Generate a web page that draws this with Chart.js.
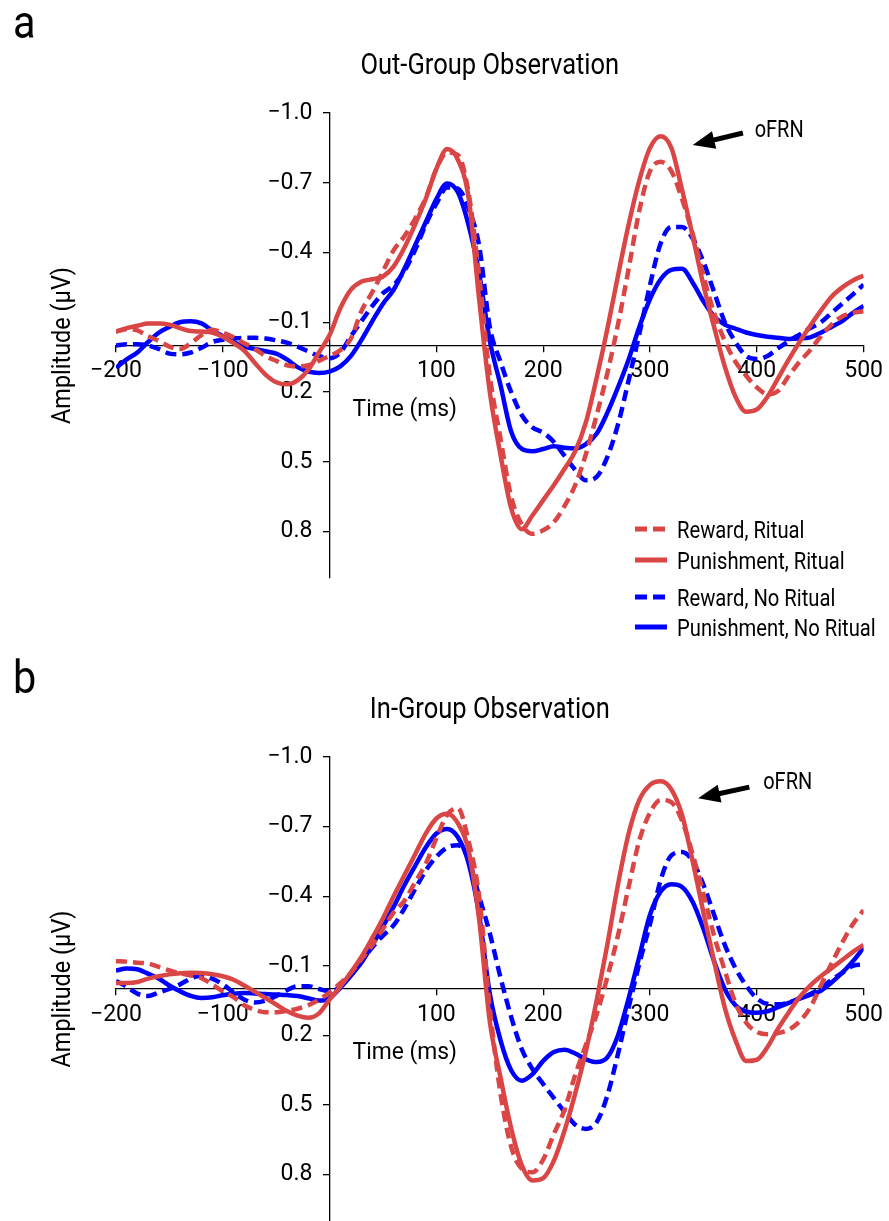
<!DOCTYPE html>
<html>
<head>
<meta charset="utf-8">
<script src="https://cdn.jsdelivr.net/npm/chart.js@4.4.0/dist/chart.umd.min.js"></script>
<style>
  html, body { margin: 0; padding: 0; background: #fff; overflow: hidden; }
  .panel { position: absolute; left: 0; width: 889px; }
  #pa { top: 0; height: 640px; }
  #pb { top: 640px; height: 600px; }
</style>
</head>
<body>
<div class="panel" id="pa"><canvas id="chartA" width="889" height="640"></canvas></div>
<div class="panel" id="pb"><canvas id="chartB" width="889" height="600"></canvas></div>
<script>
const FONT = 'Roboto, "Liberation Sans", sans-serif';

// time points (ms)
const times = [-200,-190,-180,-170,-160,-150,-140,-130,-120,-110,-100,-90,-80,-70,-60,-50,-40,-30,-20,-10,
  0,10,20,30,40,50,60,70,80,90,100,110,120,130,140,150,160,170,180,190,
  200,210,220,230,240,250,260,270,280,290,300,310,320,330,340,350,360,370,380,390,
  400,410,420,430,440,450,460,470,480,490,500];

const seriesLabels = ['Reward, Ritual', 'Punishment, Ritual', 'Reward, No Ritual', 'Punishment, No Ritual'];
const seriesColors = ['#da4545', '#da4545', '#0000ff', '#0000ff'];
const seriesDashed = [true, false, true, false];

const xTicks = [-200, -100, 100, 200, 300, 400, 500];
const yTicks = [-1.0, -0.7, -0.4, -0.1, 0.2, 0.5, 0.8];

// a: out-group observation (amplitude, µV)
const outRewardRitual = [-0.06,-0.07,-0.065,-0.04,-0.02,0.005,0.015,-0.01,-0.045,-0.068,-0.055,-0.035,-0.01,0.015,0.045,0.066,0.085,0.09,0.085,0.066,
  0.045,0.02,-0.03,-0.15,-0.23,-0.32,-0.41,-0.47,-0.545,-0.635,-0.76,-0.83,-0.82,-0.66,-0.3,0.13,0.4,0.65,0.77,0.81,
  0.795,0.76,0.69,0.6,0.467,0.3,0.12,-0.09,-0.33,-0.58,-0.75,-0.79,-0.75,-0.63,-0.48,-0.3,-0.14,-0.02,0.07,0.13,
  0.18,0.21,0.195,0.13,0.07,0.02,-0.04,-0.09,-0.125,-0.14,-0.147];
const outPunishRitual = [-0.06,-0.075,-0.085,-0.095,-0.095,-0.09,-0.075,-0.062,-0.06,-0.056,-0.038,-0.01,0.022,0.075,0.125,0.158,0.167,0.15,0.105,0.03,
  -0.045,-0.16,-0.24,-0.275,-0.285,-0.297,-0.34,-0.42,-0.52,-0.63,-0.76,-0.845,-0.8,-0.64,-0.2,0.2,0.47,0.7,0.79,0.73,
  0.665,0.6,0.53,0.455,0.33,0.14,-0.07,-0.3,-0.52,-0.71,-0.85,-0.9,-0.85,-0.67,-0.47,-0.26,-0.08,0.09,0.22,0.285,
  0.275,0.22,0.14,0.06,-0.015,-0.085,-0.15,-0.21,-0.25,-0.28,-0.3];
const outRewardNoRitual = [0.0,-0.005,-0.005,0.0,0.015,0.035,0.038,0.03,0.01,-0.015,-0.025,-0.03,-0.033,-0.033,-0.03,-0.022,-0.012,0.005,0.025,0.045,
  0.055,0.03,-0.04,-0.106,-0.17,-0.225,-0.26,-0.32,-0.41,-0.52,-0.61,-0.68,-0.675,-0.59,-0.43,-0.08,0.07,0.2,0.3,0.353,
  0.375,0.415,0.475,0.535,0.58,0.565,0.48,0.34,0.15,-0.05,-0.26,-0.44,-0.51,-0.51,-0.46,-0.36,-0.23,-0.1,-0.015,0.045,
  0.058,0.045,0.012,-0.02,-0.047,-0.075,-0.1,-0.14,-0.18,-0.22,-0.262];
const outPunishNoRitual = [0.096,0.06,0.03,-0.015,-0.055,-0.08,-0.1,-0.104,-0.095,-0.065,-0.04,-0.015,0.005,0.015,0.025,0.035,0.06,0.093,0.112,0.118,
  0.112,0.09,0.045,-0.025,-0.105,-0.18,-0.24,-0.33,-0.43,-0.53,-0.63,-0.697,-0.66,-0.52,-0.31,-0.02,0.17,0.37,0.445,0.455,
  0.445,0.433,0.44,0.443,0.424,0.38,0.29,0.18,0.06,-0.08,-0.2,-0.285,-0.325,-0.33,-0.27,-0.19,-0.125,-0.09,-0.072,-0.056,
  -0.045,-0.038,-0.033,-0.028,-0.03,-0.035,-0.055,-0.08,-0.105,-0.14,-0.17];

// b: in-group observation (amplitude, µV)
const inRewardRitual = [-0.12,-0.118,-0.113,-0.11,-0.095,-0.08,-0.068,-0.058,-0.047,-0.02,0.01,0.035,0.07,0.09,0.1,0.1,0.094,0.085,0.07,0.046,
  0.015,-0.025,-0.07,-0.13,-0.19,-0.26,-0.33,-0.38,-0.46,-0.54,-0.65,-0.75,-0.78,-0.64,-0.4,0.08,0.45,0.68,0.775,0.79,
  0.735,0.625,0.52,0.37,0.24,0.11,-0.05,-0.23,-0.44,-0.64,-0.76,-0.815,-0.805,-0.725,-0.58,-0.41,-0.23,-0.08,0.06,0.145,
  0.185,0.195,0.19,0.175,0.14,0.08,-0.015,-0.11,-0.2,-0.28,-0.34];
const inPunishRitual = [-0.026,-0.026,-0.03,-0.045,-0.055,-0.063,-0.068,-0.07,-0.069,-0.064,-0.055,-0.04,-0.015,0.012,0.039,0.067,0.095,0.115,0.124,0.105,
  0.045,-0.01,-0.072,-0.14,-0.22,-0.305,-0.4,-0.49,-0.58,-0.67,-0.735,-0.755,-0.715,-0.6,-0.3,0.14,0.38,0.6,0.76,0.825,
  0.815,0.74,0.61,0.45,0.267,0.05,-0.19,-0.45,-0.67,-0.815,-0.88,-0.895,-0.86,-0.75,-0.55,-0.33,-0.12,0.08,0.22,0.31,
  0.305,0.25,0.17,0.1,0.035,-0.015,-0.055,-0.09,-0.125,-0.16,-0.19];
const inRewardNoRitual = [-0.035,-0.01,0.02,0.03,0.015,0.0,-0.02,-0.045,-0.058,-0.045,-0.02,0.015,0.045,0.058,0.05,0.03,0.005,-0.012,-0.012,0.0,
  0.01,-0.01,-0.06,-0.12,-0.18,-0.23,-0.275,-0.347,-0.43,-0.51,-0.57,-0.61,-0.62,-0.56,-0.4,-0.24,-0.05,0.12,0.26,0.345,
  0.41,0.47,0.53,0.585,0.603,0.575,0.46,0.28,0.08,-0.11,-0.28,-0.47,-0.576,-0.59,-0.55,-0.45,-0.32,-0.19,-0.09,-0.015,
  0.04,0.064,0.066,0.058,0.04,0.022,-0.005,-0.04,-0.07,-0.1,-0.105];
const inPunishNoRitual = [-0.08,-0.088,-0.085,-0.066,-0.045,-0.015,0.01,0.03,0.039,0.036,0.027,0.02,0.017,0.019,0.022,0.024,0.026,0.03,0.04,0.05,
  0.04,-0.005,-0.058,-0.115,-0.19,-0.27,-0.355,-0.447,-0.53,-0.61,-0.67,-0.69,-0.655,-0.545,-0.32,0.02,0.22,0.35,0.395,0.367,
  0.31,0.272,0.262,0.278,0.303,0.315,0.295,0.2,0.04,-0.14,-0.32,-0.42,-0.452,-0.44,-0.375,-0.26,-0.12,0.0,0.07,0.098,
  0.102,0.096,0.078,0.06,0.042,0.025,0.008,-0.028,-0.07,-0.12,-0.178];

function minusFmt(v, digits) {
  const s = Math.abs(v).toFixed(digits);
  return v < 0 ? '\u2212' + s : s;
}

// text squeezed sideways, the original uses a condensed face
function narrowText(ctx, str, x, y, size, align, sx) {
  ctx.save();
  ctx.font = size + 'px ' + FONT;
  ctx.textAlign = align;
  ctx.translate(x, y);
  ctx.scale(sx, 1);
  ctx.fillText(str, 0, 0);
  ctx.restore();
}

// panel text, oFRN arrow and legend
const panelText = {
  id: 'panelText',
  afterDraw(chart, args, o) {
    const {ctx, chartArea} = chart;
    const xs = chart.scales.x, ys = chart.scales.y;
    const x0 = xs.getPixelForValue(0), y0 = ys.getPixelForValue(0);
    ctx.save();
    ctx.fillStyle = '#000';
    ctx.textBaseline = 'alphabetic';

    narrowText(ctx, o.letter, 13, o.letterY, 46, 'left', 0.9);
    narrowText(ctx, o.title, (chartArea.left + chartArea.right) / 2, chartArea.top - 39, 29, 'center', 0.88);
    narrowText(ctx, 'Time (ms)', x0 + 23, y0 + 70, 24, 'left', 0.95);

    ctx.save();
    ctx.translate(70, y0);
    ctx.rotate(-Math.PI / 2);
    narrowText(ctx, 'Amplitude (\u03BCV)', 0, 0, 25.5, 'center', 0.92);
    ctx.restore();

    // arrow
    const tx = xs.getPixelForValue(o.arrow.tip[0]), ty = ys.getPixelForValue(o.arrow.tip[1]);
    const sx = xs.getPixelForValue(o.arrow.tail[0]), sy = ys.getPixelForValue(o.arrow.tail[1]);
    const ang = Math.atan2(ty - sy, tx - sx);
    const hl = 22, hw = 9;
    const bx = tx - hl * Math.cos(ang), by = ty - hl * Math.sin(ang);
    ctx.strokeStyle = '#000';
    ctx.lineWidth = 5;
    ctx.beginPath();
    ctx.moveTo(sx, sy);
    ctx.lineTo(bx + 2 * Math.cos(ang), by + 2 * Math.sin(ang));
    ctx.stroke();
    ctx.beginPath();
    ctx.moveTo(tx, ty);
    ctx.lineTo(bx + hw * Math.sin(ang), by - hw * Math.cos(ang));
    ctx.lineTo(bx - hw * Math.sin(ang), by + hw * Math.cos(ang));
    ctx.closePath();
    ctx.fill();

    narrowText(ctx, 'oFRN', xs.getPixelForValue(o.arrow.text[0]), ys.getPixelForValue(o.arrow.text[1]), 23.5, 'left', 0.85);

    // legend
    if (o.legendRows) {
      chart.data.datasets.forEach((ds, i) => {
        const ry = o.legendRows[i];
        ctx.save();
        ctx.strokeStyle = ds.borderColor;
        ctx.lineWidth = 5;
        ctx.setLineDash(ds.borderDash.length ? [12, 6] : []);
        ctx.beginPath();
        ctx.moveTo(635, ry);
        ctx.lineTo(667, ry);
        ctx.stroke();
        ctx.restore();
        narrowText(ctx, ds.label, 677, ry + 8.5, 23.5, 'left', 0.86);
      });
    }
    ctx.restore();
  }
};

Chart.defaults.font.family = FONT;
Chart.defaults.color = '#000';

function buildPanel(id, series, pad, textOpts) {
  return new Chart(document.getElementById(id), {
    type: 'line',
    data: {
      datasets: series.map((vals, i) => ({
        label: seriesLabels[i],
        data: times.map((t, k) => ({x: t, y: vals[k]})),
        borderColor: seriesColors[i],
        borderDash: seriesDashed[i] ? [11, 6] : [],
        borderWidth: 4.5,
        pointRadius: 0,
        fill: false,
        cubicInterpolationMode: 'monotone',
        order: [1, 0, 3, 2][i]
      }))
    },
    options: {
      responsive: false,
      animation: false,
      layout: {padding: pad},
      plugins: {
        legend: {display: false},
        tooltip: {enabled: false},
        panelText: textOpts
      },
      scales: {
        x: {
          type: 'linear', min: -200, max: 500,
          position: {y: 0},
          afterBuildTicks: a => { a.ticks = xTicks.map(v => ({value: v})); },
          ticks: {font: {size: 23}, color: '#000', padding: 6, maxRotation: 0, autoSkip: false,
            callback: v => minusFmt(v, 0)},
          grid: {drawOnChartArea: false, drawTicks: true, tickLength: 6, color: '#000', lineWidth: 1.3},
          border: {color: '#000', width: 1.3}
        },
        y: {
          type: 'linear', min: -1, max: 1, reverse: true,
          position: {x: 0},
          afterBuildTicks: a => { a.ticks = yTicks.map(v => ({value: v})); },
          ticks: {font: {size: 23}, color: '#000', autoSkip: false,
            callback: v => minusFmt(v, 1) + '   '},
          grid: {drawOnChartArea: false, drawTicks: true, tickLength: 6, color: '#000', lineWidth: 1.3},
          border: {color: '#000', width: 1.3}
        }
      }
    },
    plugins: [panelText]
  });
}

buildPanel('chartA', [outRewardRitual, outPunishRitual, outRewardNoRitual, outPunishNoRitual],
  {left: 116, right: 19, top: 113, bottom: 62},
  {letter: 'a', letterY: 38, title: 'Out-Group Observation',
   arrow: {tip: [340, -0.862], tail: [387, -0.914], text: [398, -0.898]},
   legendRows: [529, 560, 597, 627]});

buildPanel('chartB', [inRewardRitual, inPunishRitual, inRewardNoRitual, inPunishNoRitual],
  {left: 116, right: 19, top: 117, bottom: 19},
  {letter: 'b', letterY: 53, title: 'In-Group Observation',
   arrow: {tip: [345, -0.822], tail: [393, -0.87], text: [406, -0.861]},
   legendRows: null});
</script>
</body>
</html>
